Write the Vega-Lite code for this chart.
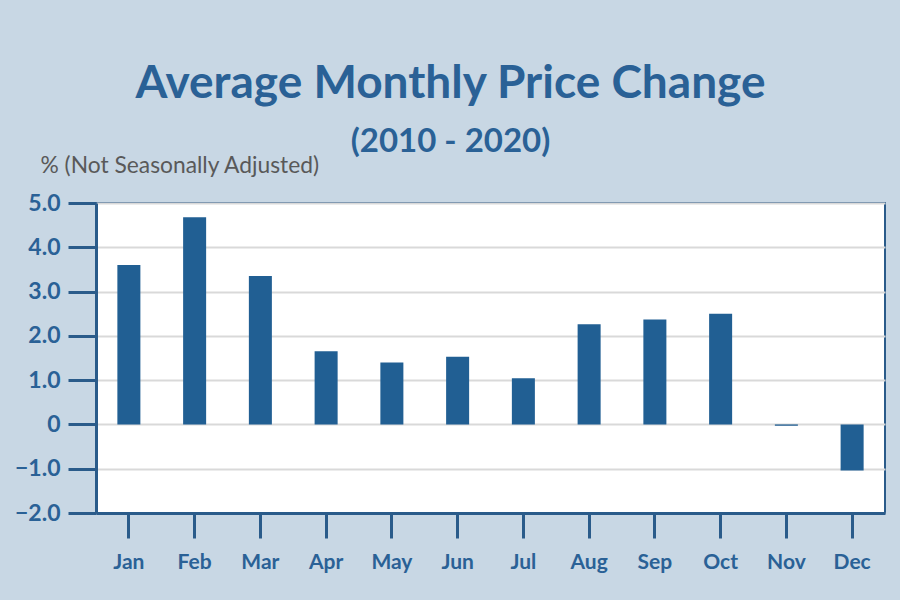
{
  "$schema": "https://vega.github.io/schema/vega-lite/v6.json",
  "width": 789,
  "height": 310,
  "autosize": {"type": "none"},
  "padding": {"left": 96, "top": 203, "right": 15, "bottom": 87},
  "background": "#c8d7e4",
  "title": {
    "text": "Average Monthly Price Change",
    "subtitle": "(2010 - 2020)",
    "anchor": "middle",
    "frame": "group",
    "dx": -40,
    "font": "Lato",
    "fontSize": 46,
    "fontWeight": "bold",
    "color": "#2a6196",
    "subtitleFont": "Lato",
    "subtitleFontSize": 33,
    "subtitleFontWeight": "bold",
    "subtitleColor": "#2a6196",
    "subtitlePadding": 18,
    "offset": -6
  },
  "config": {
    "view": {"fill": "white", "stroke": "#2a5b8a", "strokeWidth": 2},
    "font": "Lato"
  },
  "data": {
    "values": [
      {"month": "Jan", "change": 3.6},
      {"month": "Feb", "change": 4.68},
      {"month": "Mar", "change": 3.35},
      {"month": "Apr", "change": 1.65},
      {"month": "May", "change": 1.4},
      {"month": "Jun", "change": 1.53},
      {"month": "Jul", "change": 1.04},
      {"month": "Aug", "change": 2.26},
      {"month": "Sep", "change": 2.37},
      {"month": "Oct", "change": 2.5},
      {"month": "Nov", "change": -0.03},
      {"month": "Dec", "change": -1.04}
    ]
  },
  "mark": {"type": "bar", "color": "#215f93"},
  "encoding": {
    "x": {
      "field": "month",
      "type": "nominal",
      "sort": null,
      "scale": {"paddingInner": 0.65, "paddingOuter": 0.325},
      "axis": {
        "title": null,
        "labelAngle": 0,
        "labelFont": "Lato",
        "labelFontSize": 21,
        "labelFontWeight": "bold",
        "labelColor": "#2a6196",
        "labelPadding": 13,
        "tickSize": 25,
        "tickWidth": 3,
        "tickColor": "#2a5b8a",
        "domainColor": "#2a5b8a",
        "domainWidth": 3
      }
    },
    "y": {
      "field": "change",
      "type": "quantitative",
      "scale": {"domain": [-2, 5], "nice": false},
      "axis": {
        "values": [-2, -1, 0, 1, 2, 3, 4, 5],
        "labelExpr": "datum.value == 0 ? '0' : format(datum.value, '.1f')",
        "labelFont": "Lato",
        "labelFontSize": 23,
        "labelFontWeight": "bold",
        "labelColor": "#2a6196",
        "labelPadding": 8,
        "tickSize": 28,
        "tickWidth": 3,
        "tickColor": "#2a5b8a",
        "domainColor": "#2a5b8a",
        "domainWidth": 3,
        "grid": true,
        "gridColor": "#d9d9d9",
        "gridWidth": 2,
        "title": "% (Not Seasonally Adjusted)",
        "titleAngle": 0,
        "titleAlign": "left",
        "titleBaseline": "alphabetic",
        "titleX": -56,
        "titleY": -31,
        "titleFont": "Lato",
        "titleFontSize": 22.8,
        "titleFontWeight": "normal",
        "titleColor": "#595959"
      }
    }
  }
}
